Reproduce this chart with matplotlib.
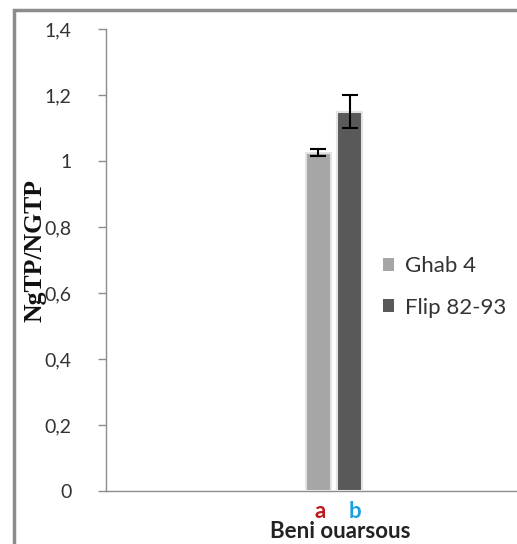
import matplotlib
matplotlib.use("Agg")
import matplotlib.pyplot as plt
from matplotlib.patches import Rectangle

categories = ["Beni ouarsous"]
series_names = ["Ghab 4", "Flip 82-93"]
values = [1.025, 1.15]
errors = [0.01, 0.05]
letters = ["a", "b"]
letter_colors = ["#c0171c", "#1ba1e2"]
bar_colors = ["#a6a6a6", "#595959"]
yticks = [0, 0.2, 0.4, 0.6, 0.8, 1.0, 1.2, 1.4]
ytick_labels = ["0", "0,2", "0,4", "0,6", "0,8", "1", "1,2", "1,4"]

W, H = 517, 544
fig = plt.figure(figsize=(W / 100, H / 100), dpi=100)
fig.patch.set_facecolor("white")

# outer frame
fig.patches.append(Rectangle((14 / W, -0.05), 1.2, (H - 10) / H + 0.05, transform=fig.transFigure,
                             fill=False, edgecolor="#8c8c8c", linewidth=2.5))

left, right = 106 / W, 562 / W
bottom, top = (H - 491) / H, (H - 29) / H
ax = fig.add_axes([left, bottom, right - left, top - bottom])
ax.set_facecolor("none")

bw = 0.055
offsets = [-0.034, 0.034]
for i in range(2):
    ax.bar(offsets[i], values[i], width=bw, color=bar_colors[i], edgecolor="#e3e3e3",
           linewidth=1.5, yerr=errors[i], capsize=6, error_kw=dict(ecolor="black", elinewidth=1.5, capthick=1.5),
           zorder=3)

ax.set_xlim(-0.5, 0.5)
ax.set_ylim(0, 1.4)
ax.set_yticks(yticks)
ax.set_yticklabels(ytick_labels, fontsize=14, family="Lato", color="#333333")
ax.set_xticks([0])
ax.set_xticklabels([""])
ax.tick_params(axis="x", length=0)
ax.tick_params(axis="y", length=6, width=1, color="#8c8c8c", pad=19)
for s in ["top", "right"]:
    ax.spines[s].set_visible(False)
for s in ["left", "bottom"]:
    ax.spines[s].set_color("#8c8c8c")
    ax.spines[s].set_linewidth(1)

fig.text(35 / W, (H - 250) / H, "NgTP/NGTP", fontsize=18.5, fontweight="bold",
         family="Liberation Serif", rotation=90, ha="center", va="center", color="#111111")

# letters and category label
letter_x = [320, 355]
for i in range(2):
    fig.text(letter_x[i] / W, (H - 512) / H, letters[i],
             color=letter_colors[i], fontsize=16, fontweight="bold", family="Lato",
             ha="center", va="center")
fig.text(340 / W, (H - 531) / H, categories[0], fontsize=16, fontweight="bold",
         family="Lato", ha="center", va="center", color="#222222")

handles = [Rectangle((0, 0), 1, 1, facecolor=c, edgecolor="none") for c in bar_colors]
fig.legend(handles, series_names, loc="center left", bbox_to_anchor=(363 / W, (H - 287) / H),
           frameon=False, prop={"family": "Lato", "size": 16},
           handlelength=0.5, handleheight=0.5, handletextpad=0.5, labelspacing=0.95,
           labelcolor="#333333")

fig.savefig("out.png", dpi=100)
